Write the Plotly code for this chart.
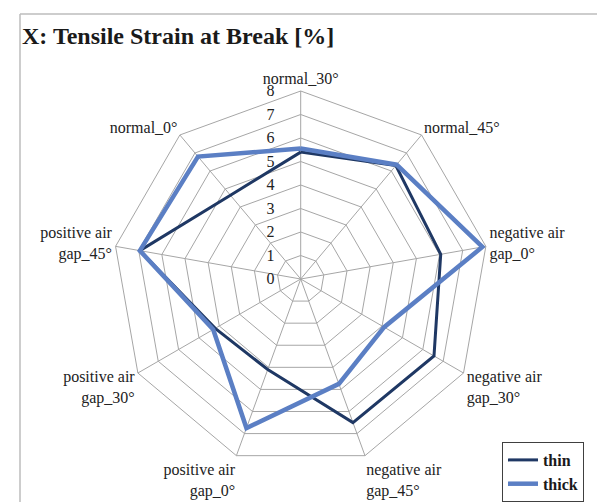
import plotly.graph_objects as go

# 数据
categories = [
    "normal_30°",
    "normal_45°",
    "negative air<br>gap_0°",
    "negative air<br>gap_30°",
    "negative air<br>gap_45°",
    "positive air<br>gap_0°",
    "positive air<br>gap_30°",
    "positive air<br>gap_45°",
    "normal_0°",
]
thin = [5.4, 6.3, 6.05, 6.55, 6.5, 4.1, 4.2, 6.95, 4.65]
thick = [5.55, 6.35, 7.85, 4.1, 4.75, 6.75, 4.3, 6.95, 6.8]

W, H = 605, 502
SERIF = "Liberation Serif, Times New Roman, serif"
GRID = "#a6a6a6"

fig = go.Figure()

for name, vals, color, width in [
    ("thin", thin, "#1f3864", 3),
    ("thick", thick, "#5b7fc4", 4.5),
]:
    fig.add_trace(
        go.Scatterpolar(
            r=vals + vals[:1],
            theta=categories + categories[:1],
            mode="lines",
            name=name,
            line=dict(color=color, width=width),
        )
    )

# 极坐标区域
cx, cy, rad = 292.7, 271.0, 188.0
fig.update_layout(
    width=W,
    height=H,
    margin=dict(l=0, r=0, t=0, b=0),
    paper_bgcolor="white",
    plot_bgcolor="white",
    font=dict(family=SERIF, color="#222222", size=16),
    title=dict(
        text="X: Tensile Strain at Break [%]",
        font=dict(family=SERIF, size=24, color="#1a1a1a", weight="bold"),
        x=14 / W,
        xanchor="left",
        y=1 - 19 / H,
        yanchor="top",
    ),
    polar=dict(
        domain=dict(
            x=[(cx - rad) / W, (cx + rad) / W],
            y=[1 - (cy + rad) / H, 1 - (cy - rad) / H],
        ),
        bgcolor="white",
        gridshape="linear",
        angularaxis=dict(
            direction="clockwise",
            rotation=90,
            showline=True,
            linecolor=GRID,
            linewidth=1,
            gridcolor=GRID,
            gridwidth=1,
            ticks="",
            tickfont=dict(family=SERIF, size=16, color="#222222"),
        ),
        radialaxis=dict(
            range=[0, 8],
            dtick=1,
            angle=90,
            side="counterclockwise",
            showline=False,
            ticks="outside",
            ticklen=20,
            tickcolor="rgba(0,0,0,0)",
            gridcolor=GRID,
            gridwidth=1,
            tickfont=dict(family=SERIF, size=16, color="#222222"),
            tickangle=90,
        ),
    ),
    legend=dict(
        x=494 / W,
        y=1 - 434 / H,
        xanchor="left",
        yanchor="top",
        bordercolor="#404040",
        borderwidth=1,
        bgcolor="white",
        font=dict(family=SERIF, size=16, color="#1a1a1a", weight="bold"),
        itemwidth=30,
    ),
    shapes=[
        dict(type="line", xref="paper", yref="paper",
             x0=12 / W, x1=1, y0=1 - 6 / H, y1=1 - 6 / H,
             line=dict(color="#bdbdbd", width=1.5)),
        dict(type="line", xref="paper", yref="paper",
             x0=12 / W, x1=12 / W, y0=0, y1=1 - 6 / H,
             line=dict(color="#bdbdbd", width=1.5)),
    ],
)

fig.write_html("out.html")
